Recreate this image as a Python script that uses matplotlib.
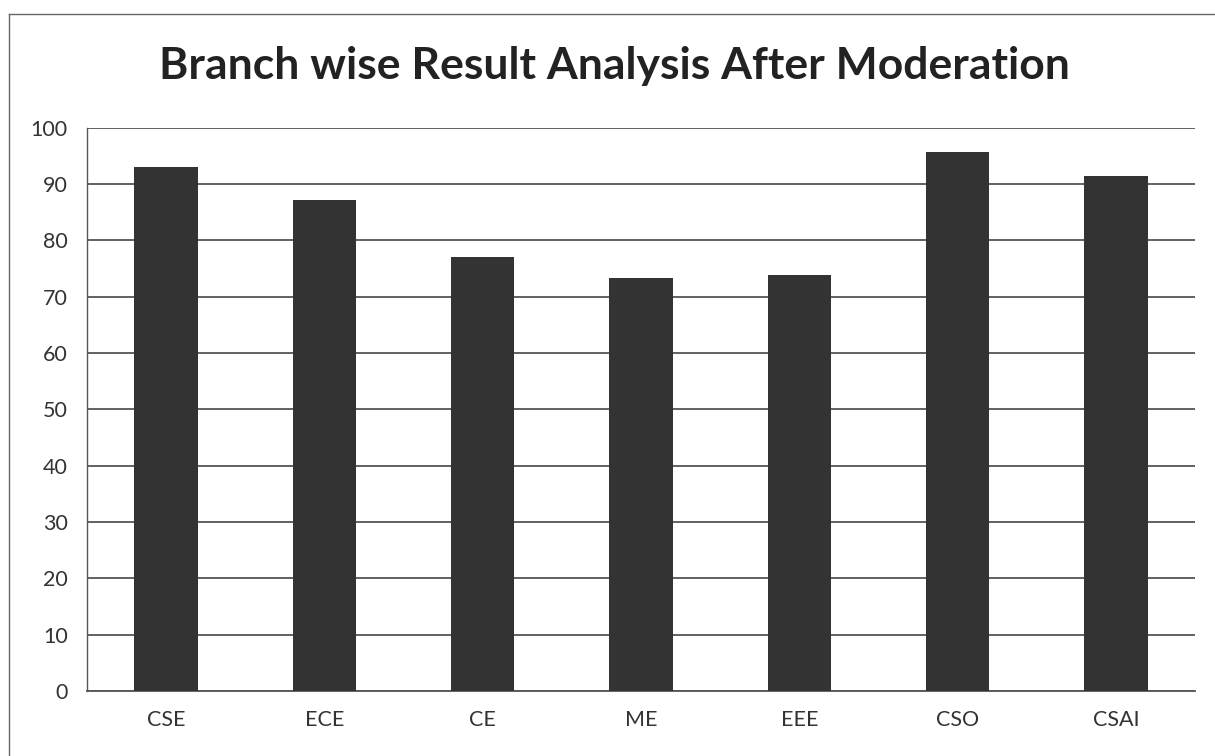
import matplotlib
matplotlib.use("Agg")
import matplotlib.pyplot as plt
from matplotlib.lines import Line2D
import numpy as np

plt.rcParams["font.family"] = ["Lato", "DejaVu Sans"]

# ---------------- Data ----------------
branches = ["CSE", "ECE", "CE", "ME", "EEE", "CSO", "CSAI"]
pass_pct = [93.0, 87.2, 77.1, 73.3, 73.8, 95.7, 91.4]

BAR_COLOR = "#333333"
GRID_COLOR = "#555555"

fig = plt.figure(figsize=(12.15, 7.56), dpi=100)
ax = fig.add_axes([0.0716, 0.086, 0.912, 0.745])

x = np.arange(len(branches))
ax.bar(x, pass_pct, width=0.4, color=BAR_COLOR, zorder=3)

ax.set_xlim(-0.5, len(branches) - 0.5)
ax.set_ylim(0, 100)
ax.set_yticks(np.arange(0, 101, 10))
ax.set_xticks(x)
ax.set_xticklabels(branches)
ax.tick_params(axis="both", length=0, labelsize=15.5, colors="#333333")
ax.tick_params(axis="x", pad=14)
ax.tick_params(axis="y", pad=14)

ax.grid(axis="y", color=GRID_COLOR, linewidth=1.3, zorder=0)
for side in ["top", "right"]:
    ax.spines[side].set_visible(False)
ax.spines["left"].set_color(GRID_COLOR)
ax.spines["left"].set_linewidth(1.0)
ax.spines["bottom"].set_color(GRID_COLOR)
ax.spines["bottom"].set_linewidth(1.3)

fig.text(0.506, 0.913, "Branch wise Result Analysis After Moderation",
         ha="center", va="center", fontsize=32, fontweight="bold", color="#222222")

# scanned page border
fig.add_artist(Line2D([0.0075, 1.0], [0.982, 0.982], color="#666666", lw=1.0,
                      transform=fig.transFigure))
fig.add_artist(Line2D([0.0075, 0.0075], [0.0, 0.982], color="#666666", lw=1.0,
                      transform=fig.transFigure))

fig.savefig("out.png", dpi=100)
